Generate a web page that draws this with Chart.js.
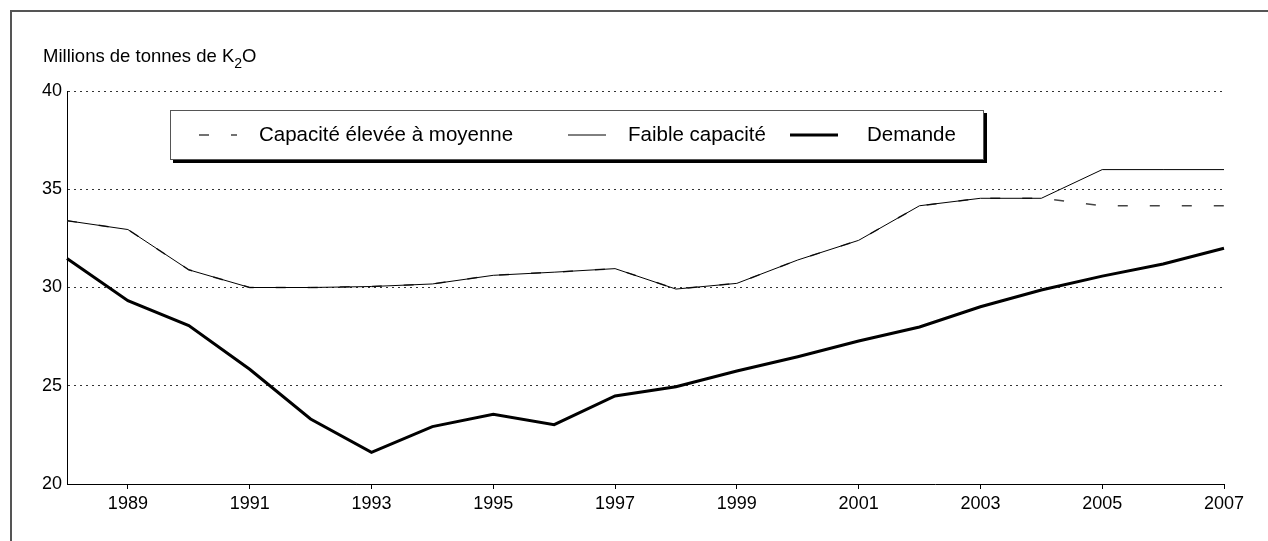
<!DOCTYPE html>
<html>
<head>
<meta charset="utf-8">
<script src="https://cdn.jsdelivr.net/npm/chart.js@4/dist/chart.umd.min.js"></script>
<style>
html,body{margin:0;padding:0;background:#fff;}
#wrap{position:relative;width:1268px;height:541px;}
</style>
</head>
<body>
<div id="wrap"><canvas id="c" width="1268" height="541"></canvas></div>
<script>
const years = [1988,1989,1990,1991,1992,1993,1994,1995,1996,1997,1998,1999,2000,2001,2002,2003,2004,2005,2006,2007];
const capaciteElevee = [33.4,32.95,30.9,30.0,30.0,30.05,30.18,30.62,30.78,30.96,29.92,30.21,31.4,32.4,34.16,34.54,34.54,34.16,34.16,34.16];
const faibleCapacite = [33.4,32.95,30.9,30.0,30.0,30.05,30.18,30.62,30.78,30.96,29.92,30.21,31.4,32.4,34.16,34.54,34.54,36.0,36.0,36.0];
const demande = [31.48,29.33,28.06,25.84,23.31,21.61,22.92,23.55,23.02,24.48,24.95,25.75,26.48,27.28,27.99,29.02,29.87,30.58,31.2,32.0];
const yTicks = [20,25,30,35,40];
const yTitle = ["Millions de tonnes de K","2","O"];
const seriesLabels = ["Capacité élevée à moyenne","Faible capacité","Demande"];

const FONT = '"Liberation Sans", Arial, Helvetica, sans-serif';

const decor = {
  id:'decor',
  beforeDraw(chart){
    const ctx = chart.ctx;
    ctx.save();
    ctx.fillStyle = '#fff';
    ctx.fillRect(0,0,chart.width,chart.height);
    ctx.strokeStyle = '#555';
    ctx.lineWidth = 2;
    ctx.beginPath();
    ctx.moveTo(11,541); ctx.lineTo(11,11); ctx.lineTo(1268,11);
    ctx.stroke();
    // y title with subscript
    ctx.fillStyle = '#000';
    ctx.textBaseline = 'alphabetic';
    ctx.textAlign = 'left';
    ctx.font = '18.5px ' + FONT;
    let x = 43, yb = 62;
    ctx.fillText(yTitle[0], x, yb);
    x += ctx.measureText(yTitle[0]).width;
    ctx.font = '14px ' + FONT;
    ctx.fillText(yTitle[1], x, yb + 6);
    x += ctx.measureText(yTitle[1]).width;
    ctx.font = '18.5px ' + FONT;
    ctx.fillText(yTitle[2], x, yb);
    ctx.restore();
  },
  afterDraw(chart){
    const ctx = chart.ctx;
    ctx.save();
    // legend box with shadow
    const bx = 170, by = 110, bw = 813, bh = 49;
    ctx.fillStyle = '#000';
    ctx.fillRect(bx+3, by+3, bw+1, bh+1);
    ctx.fillStyle = '#fff';
    ctx.fillRect(bx, by, bw, bh);
    ctx.strokeStyle = '#555';
    ctx.lineWidth = 1;
    ctx.strokeRect(bx+0.5, by+0.5, bw, bh);
    const cy = 135;
    const samples = [[199,237],[568,606],[790,838]];
    const textX = [259,628,867];
    chart.data.datasets.forEach((ds,i)=>{
      ctx.save();
      ctx.strokeStyle = ds.borderColor;
      ctx.lineWidth = ds.borderWidth;
      ctx.setLineDash(ds.borderDash || []);
      ctx.beginPath();
      ctx.moveTo(samples[i][0], cy);
      ctx.lineTo(samples[i][1], cy);
      ctx.stroke();
      ctx.restore();
      ctx.fillStyle = '#000';
      ctx.font = '20.5px ' + FONT;
      ctx.textBaseline = 'middle';
      ctx.textAlign = 'left';
      ctx.fillText(ds.label, textX[i], cy);
    });
    ctx.restore();
  }
};

new Chart(document.getElementById('c'), {
  type:'line',
  data:{
    labels: years.map(String),
    datasets:[
      {label: seriesLabels[0], data: capaciteElevee, borderColor:'#444', borderWidth:1.5, borderDash:[10,22], pointRadius:0, order:2, tension:0},
      {label: seriesLabels[1], data: faibleCapacite, borderColor:'#000', borderWidth:1, pointRadius:0, order:1, tension:0},
      {label: seriesLabels[2], data: demande, borderColor:'#000', borderWidth:3, pointRadius:0, order:0, tension:0}
    ]
  },
  options:{
    responsive:false,
    animation:false,
    events:[],
    layout:{padding:{left:0, top:91, right:44, bottom:0}},
    plugins:{legend:{display:false}, tooltip:{enabled:false}},
    scales:{
      x:{
        type:'category',
        offset:false,
        grid:{display:true, drawOnChartArea:false, drawTicks:true, tickLength:5,
              tickColor:(c)=> (c.tick && Number(years[c.index]) % 2 === 1) ? '#000' : 'rgba(0,0,0,0)'},
        border:{display:true, color:'#000', width:1},
        ticks:{autoSkip:false, maxRotation:0, minRotation:0, padding:4, color:'#000',
               font:{size:18, family:FONT},
               callback:(v,i)=> years[i] % 2 === 1 ? String(years[i]) : ''},
        afterFit:(s)=>{ s.height = 57; }
      },
      y:{
        min:20, max:40,
        afterBuildTicks:(s)=>{ s.ticks = yTicks.map(v=>({value:v})); },
        grid:{display:true, drawTicks:false, color:'#333', lineWidth:1, tickLength:0},
        border:{display:true, color:'#000', width:1, dash:[2,4]},
        ticks:{padding:5, color:'#000', font:{size:18, family:FONT}},
        afterFit:(s)=>{ s.width = 67; }
      }
    }
  },
  plugins:[decor]
});
</script>
</body>
</html>
